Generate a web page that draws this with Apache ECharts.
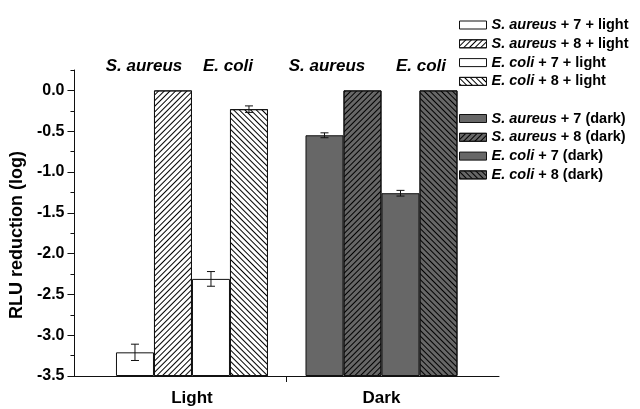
<!DOCTYPE html>
<html><head><meta charset="utf-8">
<script src="https://cdn.jsdelivr.net/npm/echarts@6/dist/echarts.min.js"></script>
<style>html,body{margin:0;padding:0;background:#fff}#c{width:640px;height:409px}</style>
</head><body><div id="c"></div><script>
// ---- data ----
const categories = ['Light', 'Dark'];
const lightNames = ['S. aureus + 7 + light', 'S. aureus + 8 + light', 'E. coli + 7 + light', 'E. coli + 8 + light'];
const darkNames = ['S. aureus + 7 (dark)', 'S. aureus + 8 (dark)', 'E. coli + 7 (dark)', 'E. coli + 8 (dark)'];
const lightValues = [-3.21, 0.0, -2.31, -0.23];
const lightErrors = [0.10, 0, 0.09, 0.04];
const darkValues = [-0.55, 0.0, -1.26, 0.0];
const darkErrors = [0.03, 0, 0.035, 0];
const yTickValues = [-3.5, -3.0, -2.5, -2.0, -1.5, -1.0, -0.5, 0.0];
const speciesLabels = ['S. aureus', 'E. coli', 'S. aureus', 'E. coli'];

// ---- styles ----
const FONT = 'Liberation Sans, Arial, sans-serif';
const BAR_W = 38;
const hatchFwd = { symbol: 'rect', symbolSize: 1, dashArrayX: [1, 0], dashArrayY: [1, 3], rotation: -Math.PI / 4, color: '#000' };
const hatchBack = { symbol: 'rect', symbolSize: 1, dashArrayX: [1, 0], dashArrayY: [1, 3], rotation: Math.PI / 4, color: '#000' };
const decals = [null, hatchFwd, null, hatchBack];

function barSeries(name, groupIdx, value, fill, slot, axisIdx) {
  const itemStyle = { color: fill, borderColor: '#111', borderWidth: 1 };
  if (decals[slot]) itemStyle.decal = decals[slot];
  return {
    type: 'bar', name: name, xAxisIndex: axisIdx, yAxisIndex: 0,
    barWidth: BAR_W, barGap: '0%',
    data: [[groupIdx + 1, value]],
    itemStyle: itemStyle,
    emphasis: { disabled: true }
  };
}

const series = [];
lightNames.forEach((n, i) => series.push(barSeries(n, 0, lightValues[i], '#ffffff', i, 0)));
darkNames.forEach((n, i) => series.push(barSeries(n, 1, darkValues[i], '#676767', i, 1)));

const errData = [];
lightValues.forEach((v, i) => { if (lightErrors[i] > 0) errData.push([1, i, v, lightErrors[i]]); });
darkValues.forEach((v, i) => { if (darkErrors[i] > 0) errData.push([2, i, v, darkErrors[i]]); });

series.push({
  type: 'custom', name: 'err', xAxisIndex: 0, yAxisIndex: 0, z: 10,
  data: errData,
  renderItem: function (params, api) {
    const x = api.value(0), slot = api.value(1), v = api.value(2), e = api.value(3);
    const top = api.coord([x, v + e]);
    const bot = api.coord([x, v - e]);
    const cx = top[0] + (slot - 1.5) * BAR_W;
    const hw = 4;
    const st = { stroke: '#111', lineWidth: 1 };
    return {
      type: 'group',
      children: [
        { type: 'line', shape: { x1: cx, y1: top[1], x2: cx, y2: bot[1] }, style: st },
        { type: 'line', shape: { x1: cx - hw, y1: top[1], x2: cx + hw, y2: top[1] }, style: st },
        { type: 'line', shape: { x1: cx - hw, y1: bot[1], x2: cx + hw, y2: bot[1] }, style: st }
      ]
    };
  }
});

function legendFmt(name) {
  const idx = name.indexOf(' + ');
  return '{i|' + name.slice(0, idx) + '}{n|' + name.slice(idx) + '}';
}
const legendText = {
  rich: {
    i: { fontFamily: FONT, fontSize: 14.5, fontWeight: 'bold', fontStyle: 'italic', color: '#000', lineHeight: 15 },
    n: { fontFamily: FONT, fontSize: 14.5, fontWeight: 'bold', color: '#000', lineHeight: 15 }
  }
};
const legendCommon = {
  orient: 'vertical', left: 459, padding: 0, itemWidth: 27, itemHeight: 8, itemGap: 3.8,
  icon: 'rect', selectedMode: false, formatter: legendFmt, textStyle: legendText,
  itemStyle: { borderColor: '#111', borderWidth: 1 }
};

const xCommon = { type: 'value', min: 0.38, max: 2.62 };

const option = {
  animation: false,
  backgroundColor: '#fff',
  grid: { left: 70, right: 141, top: 70, bottom: 33 },
  legend: [
    Object.assign({ top: 17.5, data: lightNames }, legendCommon),
    Object.assign({ top: 111, data: darkNames }, legendCommon)
  ],
  xAxis: [
    Object.assign({
      position: 'bottom',
      axisLine: { show: true, onZero: false, lineStyle: { color: '#111', width: 1 } },
      axisTick: { show: true, customValues: [1.5], length: 6, lineStyle: { color: '#111' } },
      axisLabel: {
        customValues: [1, 2], formatter: v => categories[Math.round(v) - 1],
        fontFamily: FONT, fontSize: 17, fontWeight: 'bold', color: '#000', margin: 14
      },
      splitLine: { show: false }
    }, xCommon),
    Object.assign({ show: false, position: 'bottom', axisLine: { onZero: false } }, xCommon)
  ],
  yAxis: [
    {
      type: 'value', position: 'left', min: -3.5, max: 0.25, startValue: -3.5,
      name: 'RLU reduction (log)', nameLocation: 'middle', nameGap: 42,
      nameTextStyle: { fontFamily: FONT, fontSize: 18, fontWeight: 'bold', color: '#000', padding: [0, 24, 0, 0] },
      axisLine: { show: true, onZero: false, lineStyle: { color: '#111', width: 1 } },
      axisTick: { show: true, customValues: yTickValues, length: 7, lineStyle: { color: '#111' } },
      axisLabel: {
        customValues: yTickValues, formatter: v => v.toFixed(1),
        fontFamily: FONT, fontSize: 16, fontWeight: 'bold', color: '#000', margin: 10
      },
      splitLine: { show: false }
    },
    {
      type: 'value', position: 'left', offset: 0, min: -3.5, max: 0.25, interval: 0.25,
      axisLine: { show: false, onZero: false },
      axisTick: { show: true, length: 4, lineStyle: { color: '#111' } },
      axisLabel: { show: false },
      splitLine: { show: false }
    }
  ],
  graphic: speciesLabels.map((t, i) => ({
    type: 'text', x: [144, 228, 327, 421][i], y: 66,
    style: { text: t, fontFamily: FONT, fontSize: 17, fontWeight: 'bold', fontStyle: 'italic', fill: '#000', align: 'center', verticalAlign: 'middle' }
  })),
  series: series
};

const chart = echarts.init(document.getElementById('c'), null, { renderer: 'canvas' });
chart.setOption(option);
</script></body></html>
